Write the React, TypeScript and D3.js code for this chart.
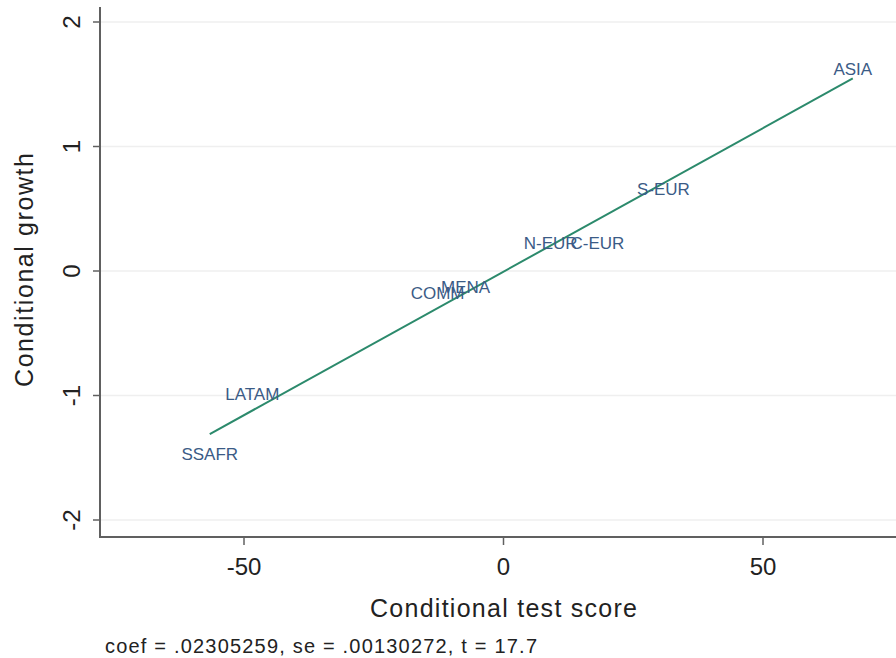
import React from "react";
import * as d3 from "d3";

const regions = ["ASIA", "S-EUR", "N-EUR", "C-EUR", "MENA", "COMM", "LATAM", "SSAFR"];
const testScore = [67.3, 30.8, 9.1, 18.1, -7.3, -12.7, -48.4, -56.6];
const growth = [1.62, 0.655, 0.22, 0.22, -0.13, -0.18, -0.99, -1.47];
const coef = 0.02305259;
const intercept = -0.005;
const xTicks = [-50, 0, 50];
const yTicks = [-2, -1, 0, 1, 2];
const noteText = "coef = .02305259, se = .00130272, t = 17.7";

const W = 896;
const H = 658;

export default function App() {
  const x = d3.scaleLinear().domain([-50, 50]).range([244, 763]);
  const y = d3.scaleLinear().domain([-2, 2]).range([520, 22]);
  const left = 100;
  const bottom = 537;
  const xMin = d3.min(testScore) as number;
  const xMax = d3.max(testScore) as number;
  const linePts: [number, number][] = [xMin, xMax].map((v) => [x(v), y(intercept + coef * v)]);
  const line = d3.line()(linePts) as string;
  const font = "Arial, 'Liberation Sans', Helvetica, sans-serif";
  return (
    <svg width={W} height={H} style={{ position: "absolute", left: 0, top: 0, background: "#fff" }}>
      <rect width={W} height={H} fill="#fff" />
      {yTicks.map((t) => (
        <line key={"g" + t} x1={left} x2={W} y1={y(t)} y2={y(t)} stroke="#efefef" strokeWidth={1.5} />
      ))}
      <path d={line} stroke="#2c8a6c" strokeWidth={2} fill="none" />
      {regions.map((r, i) => (
        <text
          key={r}
          x={x(testScore[i])}
          y={y(growth[i])}
          textAnchor="middle"
          dominantBaseline="central"
          fill="#3b5b86"
          fontFamily={font}
          fontSize={17}
        >
          {r}
        </text>
      ))}
      <line x1={left} x2={left} y1={7} y2={bottom + 1} stroke="#606060" strokeWidth={2} />
      <line x1={left - 1} x2={W} y1={bottom} y2={bottom} stroke="#606060" strokeWidth={2} />
      {yTicks.map((t) => (
        <g key={"y" + t}>
          <line x1={left - 7} x2={left} y1={y(t)} y2={y(t)} stroke="#606060" strokeWidth={1.5} />
          <text
            transform={`translate(${80},${y(t)}) rotate(-90)`}
            textAnchor="middle"
            fill="#222"
            fontFamily={font}
            fontSize={24}
          >
            {t}
          </text>
        </g>
      ))}
      {xTicks.map((t) => (
        <g key={"x" + t}>
          <line x1={x(t)} x2={x(t)} y1={bottom} y2={bottom + 8} stroke="#606060" strokeWidth={1.5} />
          <text x={x(t)} y={575} textAnchor="middle" fill="#222" fontFamily={font} fontSize={24}>
            {t}
          </text>
        </g>
      ))}
      <text
        x={370}
        y={617}
        fill="#222"
        fontFamily={font}
        fontSize={25}
        textLength={267}
        lengthAdjust="spacing"
      >
        Conditional test score
      </text>
      <text
        transform={`translate(${33},${387}) rotate(-90)`}
        fill="#222"
        fontFamily={font}
        fontSize={25}
        textLength={234}
        lengthAdjust="spacing"
      >
        Conditional growth
      </text>
      <text
        x={105}
        y={653}
        fill="#222"
        fontFamily={font}
        fontSize={20}
        textLength={432}
        lengthAdjust="spacing"
      >
        {noteText}
      </text>
    </svg>
  );
}
